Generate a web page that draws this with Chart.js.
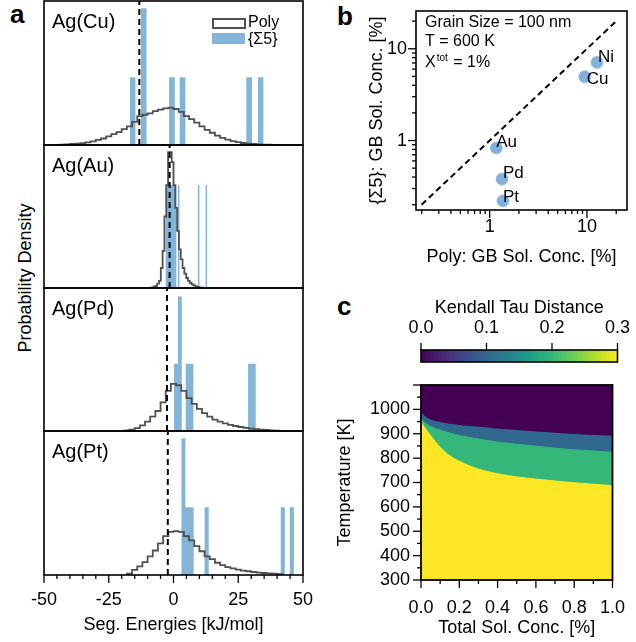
<!DOCTYPE html>
<html>
<head>
<meta charset="utf-8">
<title>Ag alloys: segregation energies and GB solute concentration</title>
<script src="https://cdn.jsdelivr.net/npm/chart.js@4.4.1/dist/chart.umd.min.js"></script>
<style>
  html, body { margin: 0; padding: 0; background: #fff; }
  #page { position: relative; width: 636px; height: 642px; overflow: hidden;
          font-family: "Liberation Sans", Arial, sans-serif; color: #000; }
  #page canvas { position: absolute; }
  .letter { position: absolute; font-weight: bold; font-size: 26px; line-height: 26px; }
  .ytitle { position: absolute; font-size: 18px; white-space: nowrap;
            transform: translate(-50%, -50%) rotate(-90deg); }
</style>
</head>
<body>
<div id="page">
  <div class="letter" style="left:10px;top:1px">a</div>
  <div class="letter" style="left:337px;top:3px">b</div>
  <div class="letter" style="left:337px;top:293px">c</div>
  <div class="ytitle" style="left:25px;top:278px">Probability Density</div>
</div>
<script>
// ---- a: segregation energy spectra (kJ/mol) ----
const alloys = ['Ag(Cu)', 'Ag(Au)', 'Ag(Pd)', 'Ag(Pt)'];
const dashedAt = [-13.2, -1.5, -2.5, -2.2];

// polycrystal histograms: first bin edge, bin width, relative density per bin
const polyStart = [-44, -8.4, -19, -18];
const polyWidth = [2, 0.7, 2, 2];
const polyCu = [0.003, 0.005, 0.007, 0.01, 0.013, 0.018, 0.025, 0.035, 0.045, 0.06, 0.075, 0.09, 0.11, 0.13,
  0.16, 0.2, 0.21, 0.22, 0.235, 0.245, 0.255, 0.26, 0.25, 0.23, 0.2, 0.18, 0.155, 0.13, 0.105, 0.085,
  0.065, 0.05, 0.037, 0.027, 0.02, 0.014, 0.01, 0.007, 0.005, 0.003, 0.002, 0.001];
const polyAu = [0.005, 0.01, 0.015, 0.03, 0.05, 0.14, 0.26, 0.5, 0.72, 0.95, 0.95, 0.88, 0.72, 0.56,
  0.4, 0.27, 0.2, 0.14, 0.1, 0.07, 0.05, 0.035, 0.025, 0.018, 0.012, 0.008, 0.005, 0.003];
const polyPd = [0.004, 0.01, 0.02, 0.04, 0.065, 0.1, 0.14, 0.2, 0.28, 0.33, 0.32, 0.28, 0.23, 0.19,
  0.155, 0.125, 0.1, 0.08, 0.065, 0.053, 0.043, 0.035, 0.028, 0.022, 0.017, 0.013, 0.01, 0.007, 0.005, 0.003];
const polyPt = [0.01, 0.035, 0.06, 0.09, 0.13, 0.17, 0.22, 0.27, 0.3, 0.305, 0.3, 0.27, 0.24, 0.2,
  0.165, 0.13, 0.11, 0.085, 0.068, 0.055, 0.046, 0.038, 0.031, 0.026, 0.021, 0.017, 0.014, 0.011, 0.009, 0.006];
const polyHeights = [polyCu, polyAu, polyPd, polyPt];

// {Σ5} boundary sites: bar left edges, bar width, relative density
const sigmaWidth = [2.2, 0.6, 1.5, 1.6];
const sigmaLeftCu = [-16.9, -12.6, -1.7, 2.4, 28.1, 32.6];
const sigmaCu = [0.47, 0.95, 0.47, 0.47, 0.47, 0.47];
const sigmaLeftAu = [-3.1, -2.5, -1.9, -1.3, -0.7, -0.1, 0.5, 1.7, 9.4, 12.4];
const sigmaAu = [0.72, 0.72, 0.72, 0.72, 0.72, 0.72, 0.72, 0.72, 0.72, 0.72];
const sigmaLeftPd = [0.2, 1.7, 4.7, 6.2, 28.8, 30.3];
const sigmaPd = [0.47, 0.94, 0.47, 0.47, 0.47, 0.47];
const sigmaLeftPt = [3.0, 4.6, 6.2, 12.0, 41.4, 44.9];
const sigmaPt = [0.95, 0.47, 0.47, 0.47, 0.47, 0.47];
const sigmaLeft = [sigmaLeftCu, sigmaLeftAu, sigmaLeftPd, sigmaLeftPt];
const sigmaHeights = [sigmaCu, sigmaAu, sigmaPd, sigmaPt];

// ---- b: GB solute concentration (%), polycrystal vs {Σ5} ----
const metals = ['Ni', 'Cu', 'Au', 'Pd', 'Pt'];
const polyConc = [12.7, 9.5, 1.17, 1.34, 1.37];
const sigmaConc = [7.1, 4.95, 0.83, 0.38, 0.22];
const parityRange = [0.2, 20];

// ---- c: Kendall tau distance map ----
// upper temperature (K) of each tau band along the total solute concentration (%)
const concGrid = [0, 0.02, 0.05, 0.1, 0.15, 0.2, 0.3, 0.4, 0.5, 0.6, 0.7, 0.8, 0.9, 1.0];
const tempTau03 = [950, 925, 893, 845, 810, 787, 755, 736, 723, 714, 706, 699, 693, 687];
const tempTau02 = [962, 945, 930, 915, 903, 893, 878, 866, 857, 849, 841, 834, 829, 824];
const tempTau01 = [985, 968, 955, 945, 938, 933, 926, 918, 912, 906, 901, 896, 892, 889];
const tauLevels = [0.0, 0.1, 0.2, 0.3];
const viridis = ['#440154', '#482878', '#3e4a89', '#31688e', '#26828e', '#1f9e89',
  '#35b779', '#6ece58', '#b5de2b', '#fde725'];
const bandColors = ['#440154', '#31688e', '#35b779', '#fde725'];

const FONT = '"Liberation Sans", Arial, sans-serif';
const POLY_LINE = '#505050';
const SIGMA_FILL = '#84b4d6';

Chart.defaults.font.family = FONT;
Chart.defaults.font.size = 18;
Chart.defaults.font.lineHeight = 1;
Chart.defaults.color = '#000';
Chart.defaults.animation = false;
Chart.defaults.responsive = false;
Chart.defaults.events = [];
Chart.defaults.plugins.legend.display = false;
Chart.defaults.plugins.tooltip.enabled = false;

// box around the plot area plus outward major/minor ticks
const axisFrame = {
  id: 'axisFrame',
  defaults: { box: true, ticks: [], width: 1.6 },
  afterDraw(chart, args, opts) {
    const { ctx, chartArea: a } = chart;
    ctx.save();
    ctx.strokeStyle = '#000';
    ctx.lineWidth = 1.3;
    for (const t of opts.ticks) {
      const s = chart.scales[t.scale];
      for (const v of t.values) {
        const p = s.getPixelForValue(v);
        ctx.beginPath();
        if (t.side === 'bottom') { ctx.moveTo(p, a.bottom); ctx.lineTo(p, a.bottom + t.len); }
        else if (t.side === 'top') { ctx.moveTo(p, a.top); ctx.lineTo(p, a.top - t.len); }
        else { ctx.moveTo(a.left, p); ctx.lineTo(a.left - t.len, p); }
        ctx.stroke();
      }
    }
    if (opts.box) {
      ctx.lineWidth = opts.width;
      ctx.strokeRect(a.left, a.top, a.right - a.left, a.bottom - a.top);
    }
    ctx.restore();
  }
};
Chart.register(axisFrame);

function steps(from, to, step) {
  const out = [];
  for (let v = from; v <= to + 1e-9; v += step) out.push(+v.toFixed(6));
  return out;
}

function makeCanvas(left, top, width, height) {
  const c = document.createElement('canvas');
  c.width = width;
  c.height = height;
  c.style.left = left + 'px';
  c.style.top = top + 'px';
  c.style.width = width + 'px';
  c.style.height = height + 'px';
  document.getElementById('page').appendChild(c);
  return c;
}

// step outline of a histogram (used with stepped: 'before')
function stepOutline(start, width, heights) {
  const pts = [{ x: start, y: 0 }];
  heights.forEach((h, k) => pts.push({ x: start + k * width, y: h }));
  pts.push({ x: start + heights.length * width, y: 0 });
  return pts;
}

// closed bar outlines, filled down to zero
function barOutline(lefts, width, heights) {
  const pts = [];
  lefts.forEach((l, k) => {
    pts.push({ x: l, y: 0 }, { x: l, y: heights[k] }, { x: l + width, y: heights[k] }, { x: l + width, y: 0 });
  });
  return pts;
}

function histLabel(text, withLegend) {
  return {
    id: 'histLabel',
    afterDraw(chart) {
      const { ctx, chartArea: a } = chart;
      ctx.save();
      ctx.fillStyle = '#000';
      ctx.textBaseline = 'middle';
      ctx.font = '20px ' + FONT;
      ctx.fillText(text, a.left + 8, a.top + 21);
      if (withLegend) {
        ctx.font = '16px ' + FONT;
        ctx.strokeStyle = POLY_LINE;
        ctx.lineWidth = 2;
        ctx.strokeRect(a.right - 90, a.top + 18, 32, 9);
        ctx.fillStyle = SIGMA_FILL;
        ctx.fillRect(a.right - 91, a.top + 32, 33, 11);
        ctx.fillStyle = '#000';
        ctx.fillText('Poly', a.right - 55, a.top + 22);
        ctx.fillText('{Σ5}', a.right - 55, a.top + 39);
      }
      ctx.restore();
    }
  };
}

// panel a: four stacked histograms sharing the energy axis
const subTops = [1, 145, 288, 431];
const subBottoms = [145, 288, 431, 575];

alloys.forEach((name, i) => {
  const last = i === alloys.length - 1;
  const h = subBottoms[i] - subTops[i];
  const canvas = last ? makeCanvas(0, subTops[i] - 4, 330, 642 - (subTops[i] - 4))
                      : makeCanvas(40, subTops[i] - 4, 267, h + 8);
  const padding = last ? { left: 44, right: 27, top: 4, bottom: 0 } : 4;

  const xScale = {
    type: 'linear', min: -50, max: 50, display: last,
    grid: { display: false, drawTicks: true, tickLength: 8 },
    border: { display: false },
    ticks: { stepSize: 25, padding: 8, maxRotation: 0, autoSkip: false },
    title: { display: true, text: 'Seg. Energies [kJ/mol]', padding: { top: 0, bottom: 8 } }
  };
  if (last) xScale.afterFit = s => { s.height = 67; };

  new Chart(canvas, {
    type: 'line',
    data: {
      datasets: [
        { data: [{ x: dashedAt[i], y: 0 }, { x: dashedAt[i], y: 1 }], borderColor: '#000',
          borderWidth: 2, borderDash: [6, 4], pointRadius: 0 },
        { data: stepOutline(polyStart[i], polyWidth[i], polyHeights[i]), stepped: 'before',
          borderColor: POLY_LINE, borderWidth: 1.8, pointRadius: 0, fill: false },
        { data: barOutline(sigmaLeft[i], sigmaWidth[i], sigmaHeights[i]), borderColor: 'transparent',
          borderWidth: 0, pointRadius: 0, fill: 'origin', backgroundColor: SIGMA_FILL }
      ]
    },
    options: {
      layout: { padding },
      scales: {
        x: xScale,
        y: { type: 'linear', min: 0, max: 1, display: false }
      },
      plugins: {
        axisFrame: {
          ticks: last ? [
            { scale: 'x', side: 'bottom', values: steps(-50, 50, 25), len: 8 },
            { scale: 'x', side: 'bottom', values: steps(-50, 50, 5).filter(v => v % 25 !== 0), len: 4 }
          ] : []
        }
      }
    },
    plugins: [histLabel(name, i === 0)]
  });
});

// panel b: log-log comparison of GB concentrations
function decadeLabel(v) {
  const e = Math.log10(v);
  return (Math.abs(e - Math.round(e)) < 1e-9 && v >= 1) ? String(Math.round(v)) : '';
}
const logMinor = [0.2, 0.3, 0.4, 0.5, 0.6, 0.7, 0.8, 0.9, 2, 3, 4, 5, 6, 7, 8, 9, 20];
const labelNudge = { Ni: [1, -5], Cu: [2, 3], Au: [0, -6], Pd: [1, -6], Pt: [0, -4] };

new Chart(makeCanvas(320, 0, 316, 272), {
  type: 'scatter',
  data: {
    datasets: [
      { type: 'line', data: parityRange.map(v => ({ x: v, y: v })), borderColor: '#000',
        borderWidth: 2, borderDash: [6, 4], pointRadius: 0 },
      { data: metals.map((m, k) => ({ x: polyConc[k], y: sigmaConc[k] })),
        backgroundColor: 'rgba(108,163,213,0.85)', borderColor: 'rgba(150,190,226,0.9)',
        borderWidth: 1, pointRadius: 6 }
    ]
  },
  options: {
    layout: { padding: { left: 45, right: 9, top: 4, bottom: 0 } },
    scales: {
      x: {
        type: 'logarithmic', min: 0.175, max: 25.8,
        afterFit: s => { s.height = 62; },
        grid: { display: false, drawTicks: true, tickLength: 8 },
        border: { display: false },
        ticks: { autoSkip: false, maxRotation: 0, padding: 0, callback: decadeLabel },
        title: { display: true, text: 'Poly: GB Sol. Conc. [%]', padding: { top: 0, bottom: 6 } }
      },
      y: {
        type: 'logarithmic', min: 0.175, max: 25.8,
        afterFit: s => { s.width = 51; },
        grid: { display: false, drawTicks: true, tickLength: 7 },
        border: { display: false },
        ticks: { autoSkip: false, padding: 2, callback: decadeLabel },
        title: { display: true, text: '{Σ5}: GB Sol. Conc. [%]', padding: { top: 3, bottom: 0 } }
      }
    },
    plugins: {
      axisFrame: {
        ticks: [
          { scale: 'x', side: 'bottom', values: [1, 10], len: 8 },
          { scale: 'x', side: 'bottom', values: logMinor, len: 4 },
          { scale: 'y', side: 'left', values: [1, 10], len: 8 },
          { scale: 'y', side: 'left', values: logMinor, len: 4 }
        ]
      }
    }
  },
  plugins: [{
    id: 'concLabels',
    afterDraw(chart) {
      const { ctx, chartArea: a } = chart;
      const pts = chart.getDatasetMeta(1).data;
      ctx.save();
      ctx.fillStyle = '#000';
      ctx.textBaseline = 'middle';
      ctx.font = '17px ' + FONT;
      metals.forEach((m, k) => {
        const [dx, dy] = labelNudge[m];
        ctx.fillText(m, pts[k].x + dx, pts[k].y + dy);
      });
      ctx.font = '16px ' + FONT;
      const x0 = a.left + 9;
      ctx.fillText('Grain Size = 100 nm', x0, a.top + 12);
      ctx.fillText('T = 600 K', x0, a.top + 31);
      ctx.fillText('X', x0, a.top + 52);
      const wx = ctx.measureText('X').width;
      ctx.font = '10px ' + FONT;
      ctx.fillText('tot', x0 + wx + 1, a.top + 47);
      const wt = ctx.measureText('tot').width;
      ctx.font = '16px ' + FONT;
      ctx.fillText(' = 1%', x0 + wx + wt + 2, a.top + 52);
      ctx.restore();
    }
  }]
});

// panel c: colour bar
new Chart(makeCanvas(320, 295, 316, 72), {
  type: 'bar',
  data: {
    labels: [''],
    datasets: [{
      data: [[tauLevels[0], tauLevels[tauLevels.length - 1]]],
      barPercentage: 1, categoryPercentage: 1, borderWidth: 0,
      backgroundColor(c) {
        const chart = c.chart;
        if (!chart.chartArea) return viridis[0];
        const s = chart.scales.x;
        const g = chart.ctx.createLinearGradient(s.getPixelForValue(s.min), 0, s.getPixelForValue(s.max), 0);
        viridis.forEach((col, k) => g.addColorStop(k / (viridis.length - 1), col));
        return g;
      }
    }]
  },
  options: {
    indexAxis: 'y',
    layout: { padding: { left: 101, right: 13, top: 0, bottom: 5 } },
    scales: {
      x: {
        type: 'linear', position: 'top', min: 0, max: 0.3,
        afterFit: s => { s.height = 55; },
        grid: { display: false, drawTicks: true, tickLength: 7 },
        border: { display: false },
        ticks: { stepSize: 0.1, padding: 6, maxRotation: 0, autoSkip: false, callback: v => v.toFixed(1) },
        title: { display: true, text: 'Kendall Tau Distance', padding: { top: 4, bottom: 0 } }
      },
      y: { display: false }
    },
    plugins: {
      axisFrame: { ticks: [{ scale: 'x', side: 'top', values: tauLevels, len: 7 }] }
    }
  }
});

// panel c: tau bands over temperature and concentration
const band = temps => concGrid.map((c, k) => ({ x: c, y: temps[k] }));

new Chart(makeCanvas(320, 372, 316, 270), {
  type: 'line',
  data: {
    datasets: [
      { data: band(tempTau03), fill: 'start', backgroundColor: bandColors[3], borderColor: bandColors[3],
        borderWidth: 1, pointRadius: 0, cubicInterpolationMode: 'monotone' },
      { data: band(tempTau02), fill: 'start', backgroundColor: bandColors[2], borderColor: bandColors[2],
        borderWidth: 1, pointRadius: 0, cubicInterpolationMode: 'monotone' },
      { data: band(tempTau01), fill: 'start', backgroundColor: bandColors[1], borderColor: bandColors[1],
        borderWidth: 1.5, pointRadius: 0, cubicInterpolationMode: 'monotone' },
      { data: band(tempTau01), fill: 'end', backgroundColor: bandColors[0], borderColor: 'transparent',
        borderWidth: 0, pointRadius: 0, cubicInterpolationMode: 'monotone' }
    ]
  },
  options: {
    layout: { padding: { left: 0, right: 13, top: 8, bottom: 0 } },
    scales: {
      x: {
        type: 'linear', min: 0, max: 1,
        afterFit: s => { s.height = 62; },
        grid: { display: false, drawTicks: true, tickLength: 8 },
        border: { display: false },
        ticks: { stepSize: 0.2, padding: 11, maxRotation: 0, autoSkip: false, callback: v => v.toFixed(1) },
        title: { display: true, text: 'Total Sol. Conc. [%]', padding: { top: 0, bottom: 5 } }
      },
      y: {
        type: 'linear', min: 300, max: 1100,
        afterFit: s => { s.width = 101; },
        grid: { display: false, drawTicks: true, tickLength: 7 },
        border: { display: false },
        ticks: { stepSize: 100, padding: 4, autoSkip: false, callback: v => (v <= 1000 ? String(v) : '') },
        title: { display: true, text: 'Temperature [K]', padding: { top: 16, bottom: 0 } }
      }
    },
    plugins: {
      axisFrame: {
        width: 1.8,
        ticks: [
          { scale: 'x', side: 'bottom', values: steps(0, 1, 0.2), len: 8 },
          { scale: 'x', side: 'bottom', values: steps(0.1, 0.9, 0.2), len: 4 },
          { scale: 'y', side: 'left', values: steps(300, 1100, 100), len: 8 },
          { scale: 'y', side: 'left', values: steps(350, 1050, 100), len: 4 }
        ]
      }
    }
  }
});
</script>
</body>
</html>
